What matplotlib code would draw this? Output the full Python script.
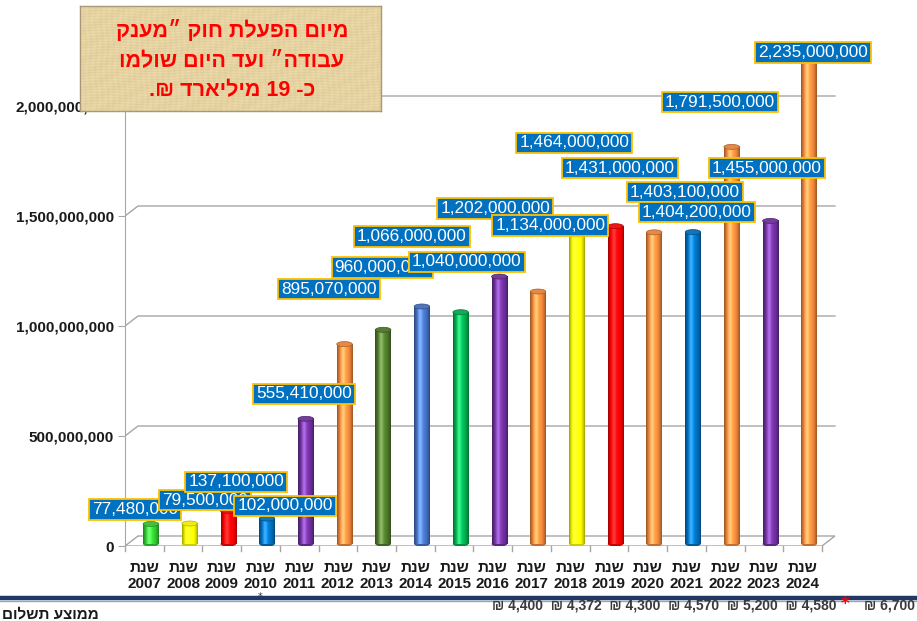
import re
import numpy as np
import matplotlib
matplotlib.use("Agg")
import matplotlib.pyplot as plt
from matplotlib.patches import Rectangle, Ellipse, Polygon
from matplotlib.lines import Line2D
from matplotlib.colors import to_rgb

# ---------------- data ----------------
years = ["2007", "2008", "2009", "2010", "2011", "2012", "2013", "2014", "2015",
         "2016", "2017", "2018", "2019", "2020", "2021", "2022", "2023", "2024"]
year_word = "שנת"
values = [77480000, 79500000, 137100000, 102000000, 555410000, 895070000,
          960000000, 1066000000, 1040000000, 1202000000, 1134000000,
          1464000000, 1431000000, 1403100000, 1404200000, 1791500000,
          1455000000, 2235000000]
bar_colors = ["#33cc33", "#ffff00", "#ff0000", "#0070c0", "#7030a0", "#f4893b",
              "#4f7a2a", "#4472c4", "#00b050", "#7030a0", "#f4893b", "#ffff00",
              "#ff0000", "#f4893b", "#0070c0", "#f4893b", "#7030a0", "#f4893b"]
y_ticks = [0, 500000000, 1000000000, 1500000000, 2000000000]
title_lines = ["מיום הפעלת חוק ״מענק", "עבודה״ ועד היום שולמו", "כ- 19 מיליארד ₪."]
avg_label = "ממוצע תשלום"
avg_payment = [6700, 4580, 5200, 4570, 4300, 4372, 4400]   # right-to-left order
starred_year = "2010"

# label placement (style only): offset in categories, height in value units
label_dx = [-0.24, 0.57, 0.37, 0.63, 0.12, -0.23, 0.14, -0.09, 0.33, 0.06,
            0.48, 0.10, 0.28, 0.96, 0.27, -0.13, 0.08, 0.27]
label_y = [0.164e9, 0.209e9, 0.291e9, 0.182e9, 0.691e9, 1.168e9, 1.264e9,
           1.405e9, 1.291e9, 1.536e9, 1.455e9, 1.832e9, 1.718e9, 1.609e9,
           1.518e9, 2.018e9, 1.718e9, 2.245e9]


def vis(s):
    """Visual (left-to-right) order for Hebrew text, keeping numbers intact."""
    r = s[::-1]
    return re.sub(r"[0-9][0-9,.]*[0-9]|[0-9]", lambda m: m.group(0)[::-1], r)


HEB = ["Liberation Sans", "DejaVu Sans"]
NARROW = ["Liberation Sans Narrow", "Liberation Sans", "DejaVu Sans"]

W, H = 917, 621
fig = plt.figure(figsize=(W / 100, H / 100), dpi=100)
fig.patch.set_facecolor("white")

# axes: front x from 125px (cat -0.5) ; 0 at 546px, 220px per 1e9
px_cat = 38.72
x_left_px, x_right_px = 125, 850
y0_px, ytop_px = 546, 8
xmin = -0.5
xmax = xmin + (x_right_px - x_left_px) / px_cat
ymax = (y0_px - ytop_px) / 220.0 * 1e9
ax = fig.add_axes([x_left_px / W, (H - y0_px) / H,
                   (x_right_px - x_left_px) / W, (y0_px - ytop_px) / H])
ax.set_facecolor("none")

n = len(years)
dxd = 13 / px_cat           # depth offset (categories)
dyd = 10 / 220.0 * 1e9      # depth offset (value units)
grid_c = "#a6a6a6"

# floor
floor = Polygon([(xmin, 0), (n - 0.5, 0), (n - 0.5 + dxd, dyd), (xmin + dxd, dyd)],
                closed=True, facecolor="white", edgecolor=grid_c, lw=1.0, zorder=1)
ax.add_patch(floor)
for b in range(n + 1):
    ax.plot([b - 0.5, b - 0.5], [0, -5 / 220.0 * 1e9], color=grid_c, lw=1,
            clip_on=False, zorder=1)

# gridlines with 3D offset
for t in y_ticks[1:]:
    ax.plot([xmin, xmin + dxd, n - 0.5 + dxd], [t, t + dyd, t + dyd],
            color=grid_c, lw=1.0, zorder=1)

# cylinders
bw = 0.40
N = 40
tt = np.linspace(0, 1, N)
shade = 0.62 + 0.5 * np.sin(np.pi * tt) ** 0.8
hl = 0.22 * np.exp(-((tt - 0.38) / 0.14) ** 2)
cap_h = 5 / 220.0 * 1e9
for i, (v, c) in enumerate(zip(values, bar_colors)):
    base = np.array(to_rgb(c))
    img = np.clip(base[None, :] * shade[:, None] + hl[:, None], 0, 1)
    img = np.concatenate([img, np.ones((N, 1))], axis=1)[None, :, :]
    cx = i + 0.5 * dxd
    y_bot = 0.2 * dyd
    y_top = v + 0.5 * dyd
    ax.add_patch(Ellipse((cx, y_bot), bw, cap_h, facecolor=tuple(base * 0.8),
                         edgecolor="none", zorder=2))
    ax.imshow(img, extent=(cx - bw / 2, cx + bw / 2, y_bot, y_top),
              aspect="auto", zorder=2.1, interpolation="bilinear")
    ax.add_patch(Ellipse((cx, y_top), bw, cap_h,
                         facecolor=tuple(np.clip(base * 0.85 + 0.08, 0, 1)),
                         edgecolor=tuple(base * 0.7), lw=0.5, zorder=2.2))

# data labels
for i, v in enumerate(values):
    ax.text(i + label_dx[i], label_y[i], f"{v:,}", ha="center", va="center",
            fontsize=12.4, color="white", family=["Liberation Sans", "DejaVu Sans"],
            zorder=5 + i,
            bbox=dict(boxstyle="square,pad=0.17", facecolor="#0070c0",
                      edgecolor="#ffc000", lw=1.3))

ax.set_xlim(xmin, xmax)
ax.set_ylim(0, ymax)

for s in ["top", "right", "bottom"]:
    ax.spines[s].set_visible(False)
ax.spines["left"].set_color(grid_c)
ax.spines["left"].set_bounds(0, 2.0e9)
ax.spines["left"].set_zorder(1)

ax.set_yticks(y_ticks)
ax.set_yticklabels([f"{t:,}" for t in y_ticks], fontsize=11, fontweight="bold",
                   family=["Liberation Sans", "DejaVu Sans"], color="#1a1a1a")
ax.tick_params(axis="y", length=5, color=grid_c, pad=3)

ax.set_xticks(range(n))
ax.set_xticklabels([vis(year_word) + "\n" + y for y in years], fontsize=11,
                   fontweight="bold", family=NARROW, color="#1a1a1a",
                   linespacing=1.15)
ax.tick_params(axis="x", length=0, pad=11)

ax.text(years.index(starred_year), -0.23e9, "*", ha="center", va="center",
        fontsize=7, color="#333333", clip_on=False)

# title box with a soft papyrus-like texture
bx0, by0, bw_px, bh_px = 80, 6, 301, 105
tax = fig.add_axes([bx0 / W, 1 - (by0 + bh_px) / H, bw_px / W, bh_px / H],
                   zorder=10)
gx = np.linspace(0, 1, 301)[None, :]
gy = np.linspace(0, 1, 105)[:, None]
tex = (0.5 * np.sin(2 * np.pi * (gy * 37 + 0.3 * np.sin(2 * np.pi * gx * 3)))
       + 0.35 * np.sin(2 * np.pi * (gx * 53 + 0.2 * np.sin(2 * np.pi * gy * 2)))
       + 0.25 * np.sin(2 * np.pi * (gx * 11 + gy * 7)))
base_box = np.array(to_rgb("#e6d3a2"))
img_box = np.clip(base_box[None, None, :] * (1 + 0.035 * tex[:, :, None]), 0, 1)
tax.imshow(img_box, aspect="auto", extent=(0, 1, 0, 1), interpolation="bilinear")
tax.set_xlim(0, 1)
tax.set_ylim(0, 1)
tax.set_xticks([])
tax.set_yticks([])
for s in tax.spines.values():
    s.set_color("#a89878")
    s.set_linewidth(1.0)
for k, line in enumerate(title_lines):
    tax.text(0.505, 1 - (31 + 30 * k - by0) / bh_px, vis(line), ha="center",
             va="center", fontsize=15.5, fontweight="bold", color="#ff0000",
             family=HEB, transform=tax.transAxes)

# bottom band
fig.add_artist(Line2D([0, 1], [1 - 598 / H, 1 - 598 / H], transform=fig.transFigure,
                      color="#1f3864", lw=3.2, zorder=10))
fig.add_artist(Line2D([0, 1], [1 - 601 / H, 1 - 601 / H], transform=fig.transFigure,
                      color="#8fa6cc", lw=1.0, zorder=9))
fig.text(2 / W, 1 - 614 / H, vis(avg_label), ha="left", va="center", fontsize=11,
         fontweight="bold", color="#1a1a1a", family=HEB, zorder=11)

pay_txt = [f"₪ {p:,}" for p in avg_payment]
fig.text(915 / W, 1 - 606 / H, pay_txt[0], ha="right", va="center", fontsize=10,
         fontweight="bold", color="#3a3a3a", family=NARROW, zorder=11)
fig.text(845 / W, 1 - 604 / H, "*", ha="center", va="center", fontsize=12,
         fontweight="bold", color="#ff0000", zorder=11)
fig.text(836 / W, 1 - 606 / H, "  ".join(reversed(pay_txt[1:])), ha="right",
         va="center", fontsize=10, fontweight="bold", color="#3a3a3a",
         family=NARROW, zorder=11)

fig.savefig("out.png", dpi=100)
